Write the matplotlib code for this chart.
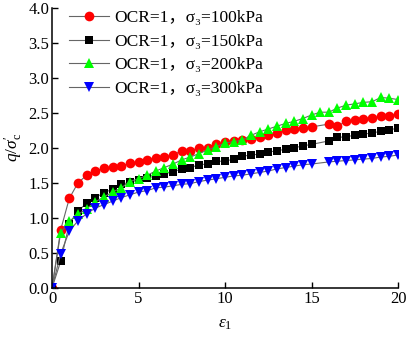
import matplotlib
matplotlib.use("Agg")
import matplotlib.pyplot as plt

plt.rcParams['font.family'] = ['Liberation Serif', 'Noto Sans CJK SC', 'DejaVu Serif']
plt.rcParams['mathtext.fontset'] = 'custom'
plt.rcParams['mathtext.rm'] = 'Liberation Serif'
plt.rcParams['mathtext.it'] = 'Liberation Serif:italic'

# strain values (%), 15.5 missing in three of the series
strain_all = [0, 0.5, 1, 1.5, 2, 2.5, 3, 3.5, 4, 4.5, 5, 5.5, 6, 6.5, 7, 7.5, 8, 8.5, 9, 9.5,
              10, 10.5, 11, 11.5, 12, 12.5, 13, 13.5, 14, 14.5, 15, 15.5, 16, 16.5, 17, 17.5,
              18, 18.5, 19, 19.5, 20]
strain_gap = [s for s in strain_all if s != 15.5]

q_100 = [0, 0.83, 1.28, 1.50, 1.61, 1.67, 1.71, 1.73, 1.74, 1.78, 1.80, 1.83, 1.86, 1.87, 1.90,
         1.96, 1.96, 2.00, 2.00, 2.05, 2.08, 2.10, 2.11, 2.13, 2.15, 2.18, 2.21, 2.25, 2.27, 2.28,
         2.30, 2.34, 2.31, 2.38, 2.40, 2.42, 2.43, 2.45, 2.46, 2.49]
q_150 = [0, 0.38, 0.92, 1.10, 1.21, 1.29, 1.36, 1.41, 1.48, 1.51, 1.54, 1.57, 1.60, 1.63, 1.66,
         1.70, 1.72, 1.76, 1.77, 1.81, 1.81, 1.84, 1.88, 1.90, 1.91, 1.94, 1.96, 1.98, 2.00, 2.03,
         2.05, 2.10, 2.15, 2.16, 2.18, 2.20, 2.21, 2.24, 2.26, 2.28]
q_200 = [0, 0.79, 0.95, 1.05, 1.13, 1.23, 1.30, 1.37, 1.43, 1.52, 1.56, 1.61, 1.67, 1.72, 1.77,
         1.83, 1.87, 1.92, 1.97, 2.02, 2.07, 2.09, 2.11, 2.18, 2.23, 2.27, 2.31, 2.35, 2.38, 2.42,
         2.47, 2.51, 2.51, 2.57, 2.61, 2.63, 2.65, 2.66, 2.72, 2.71, 2.69]
q_300 = [0, 0.49, 0.81, 0.96, 1.06, 1.14, 1.19, 1.24, 1.29, 1.33, 1.37, 1.39, 1.43, 1.44, 1.46,
         1.48, 1.49, 1.52, 1.54, 1.56, 1.58, 1.60, 1.61, 1.63, 1.65, 1.67, 1.70, 1.72, 1.74, 1.76,
         1.77, 1.80, 1.81, 1.82, 1.83, 1.84, 1.85, 1.87, 1.88, 1.90]

labels = ['OCR=1，σ₃=100kPa', 'OCR=1，σ₃=150kPa', 'OCR=1，σ₃=200kPa', 'OCR=1，σ₃=300kPa']

fig = plt.figure(figsize=(4.08, 3.42), dpi=100)
ax = fig.add_axes([0.1275, 0.158, 0.848, 0.819])

line_kw = dict(color='0.4', lw=0.8, markeredgewidth=0)
ax.plot(strain_gap, q_100, marker='o', ms=7, markerfacecolor='#ff0000', label=labels[0], **line_kw)
ax.plot(strain_gap, q_150, marker='s', ms=6, markerfacecolor='#000000', label=labels[1], **line_kw)
ax.plot(strain_all, q_200, marker='^', ms=7.5, markerfacecolor='#00ff00', label=labels[2], **line_kw)
ax.plot(strain_gap, q_300, marker='v', ms=7.5, markerfacecolor='#0000ff', label=labels[3], **line_kw)

ax.set_xlim(0, 20)
ax.set_ylim(0, 4)
ax.set_xticks([0, 5, 10, 15, 20])
ax.set_yticks([0, 0.5, 1, 1.5, 2, 2.5, 3, 3.5, 4])
ax.yaxis.set_major_formatter(matplotlib.ticker.FormatStrFormatter('%.1f'))
ax.tick_params(direction='in', length=4, width=1, labelsize=12, pad=2)
ax.spines['top'].set_visible(False)
ax.spines['right'].set_visible(False)
ax.spines['left'].set_linewidth(1.1)
ax.spines['bottom'].set_linewidth(1.1)
for sp in ax.spines.values():
    sp.set_clip_on(False)

ax.set_xlabel(r'$\varepsilon_1$', fontsize=12.5, labelpad=7)
ax.set_ylabel(r"$q/\sigma^{\prime}_{\mathrm{c}}$", fontsize=12.5, labelpad=3)

ax.legend(loc='upper left', bbox_to_anchor=(0.015, 1.035), frameon=False, fontsize=12.5,
          handlelength=2.3, handletextpad=0.3, labelspacing=0.42, borderaxespad=0.3)

fig.savefig('out.png', dpi=100)
